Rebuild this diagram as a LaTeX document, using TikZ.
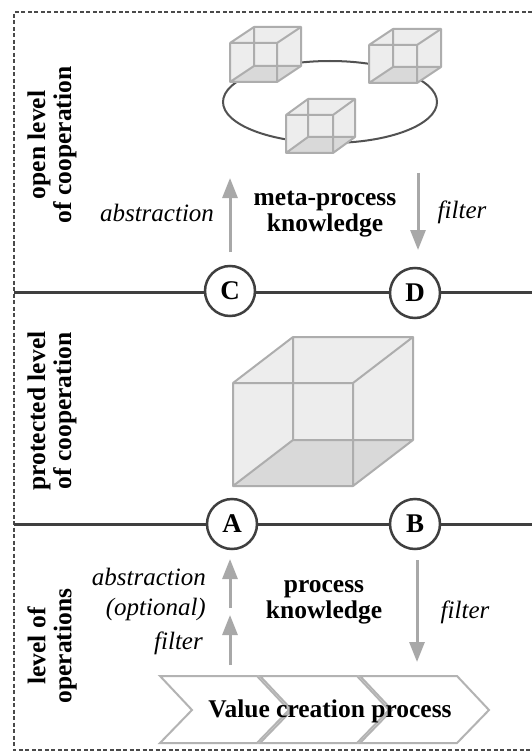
\documentclass[tikz,border=0pt]{standalone}
\usepackage{fontspec}
\setmainfont{Liberation Serif}
\usetikzlibrary{arrows.meta}
\definecolor{linedark}{HTML}{3F3F3F}
\definecolor{framegray}{HTML}{4A4A4A}
\definecolor{arrowgray}{HTML}{A8A8A8}
\definecolor{cubeedge}{HTML}{ADADAD}
\definecolor{cubelight}{HTML}{EDEDED}
\definecolor{cubedark}{HTML}{D9D9D9}
\definecolor{chevedge}{HTML}{B3B3B3}
\tikzset{
  boldlbl/.style={font=\fontsize{25.5}{26}\selectfont\bfseries, align=center, inner sep=0pt},
  itlbl/.style={font=\fontsize{25}{26}\selectfont\itshape, inner sep=0pt},
  levellbl/.style={boldlbl, rotate=90},
  gate/.style={circle, draw=linedark, line width=2.5pt, fill=white, minimum size=50pt, inner sep=0pt, font=\fontsize{27}{27}\selectfont\bfseries},
  flow/.style={draw=arrowgray, line width=3pt, -{Triangle[width=15pt,length=20pt]}},
  levelline/.style={draw=linedark, line width=3pt},
  chevron/.style={draw=chevedge, line width=2pt, fill=white, line join=miter},
}
% wireframe cube: front face lower-left corner (#1,#2), width #3, height #4, depth offset (#5,#6)
\newcommand{\wirecube}[6]{%
  \fill[cubelight] (#1,#2) -- (#1+#3,#2) -- (#1+#3+#5,#2+#6) -- (#1+#3+#5,#2+#6-#4)
     -- (#1+#5,#2+#6-#4) -- (#1,#2-#4) -- cycle;
  \fill[cubedark] (#1,#2) -- (#1+#3,#2) -- (#1+#3+#5,#2+#6) -- (#1+#5,#2+#6) -- cycle;
  \draw[cubeedge, line width=2pt, line join=round]
     (#1,#2) rectangle (#1+#3,#2-#4)
     (#1+#5,#2+#6) rectangle (#1+#3+#5,#2+#6-#4)
     (#1,#2) -- (#1+#5,#2+#6)
     (#1+#3,#2) -- (#1+#3+#5,#2+#6)
     (#1,#2-#4) -- (#1+#5,#2+#6-#4)
     (#1+#3,#2-#4) -- (#1+#3+#5,#2+#6-#4);
}
\begin{document}
\begin{tikzpicture}[x=1pt, y=-1pt]
\useasboundingbox (0,0) rectangle (532,754);
\fill[white] (0,0) rectangle (532,754);

% dashed outer frame (open to the right)
\draw[framegray, line width=1.6pt, dash pattern=on 4pt off 2.5pt]
  (545,12) -- (14,12) -- (14,750) -- (545,750);

% level boundaries
\coordinate (upL) at (14,292);
\coordinate (upR) at (545,292);
\coordinate (loL) at (14,524);
\coordinate (loR) at (545,524);
\draw[levelline] (upL) -- (upR);
\draw[levelline] (loL) -- (loR);

% gates
\node[gate] (C) at (230,291) {C};
\node[gate] (D) at (415,293) {D};
\node[gate] (A) at (232,524) {A};
\node[gate] (B) at (415,524) {B};

% level labels
\node[levellbl] (openlbl) at (52,145) {open level\\of cooperation};
\node[levellbl] (protlbl) at (52,411) {protected level\\of cooperation};
\node[levellbl] (oplbl) at (52,646) {level of\\operations};

% open level: ring of cubes
\draw[linedark!90, line width=2pt] (330,102) ellipse [x radius=107, y radius=41];
\wirecube{230}{82}{47}{39}{24}{-16}
\wirecube{369}{83}{48}{38}{24}{-16}
\wirecube{286}{153}{47}{38}{22}{-16}

% protected level: big cube
\wirecube{233}{486}{120}{103}{60}{-46}

% upper arrows
\coordinate (absU0) at (230,252);
\coordinate (absU1) at (230,178);
\coordinate (filU0) at (418,173);
\coordinate (filU1) at (418,250);
\draw[flow] (absU0) -- (absU1);
\draw[flow] (filU0) -- (filU1);
\node[itlbl] (absUlbl) at (157,213) {abstraction};
\node[itlbl] (filUlbl) at (462,212) {filter};
\node[boldlbl] (meta) at (325,214) {meta-process\\knowledge};

% lower arrows
\coordinate (absL0) at (230,608);
\coordinate (absL1) at (230,559);
\coordinate (filA0) at (230,665);
\coordinate (filA1) at (230,615);
\coordinate (filB0) at (417,560);
\coordinate (filB1) at (417,662);
\draw[flow] (absL0) -- (absL1);
\draw[flow] (filA0) -- (filA1);
\draw[flow] (filB0) -- (filB1);
\node[itlbl, anchor=east] (absLlbl) at (206,577) {abstraction};
\node[itlbl, anchor=east] (optlbl) at (206,609) {(optional)};
\node[itlbl, anchor=east] (filAlbl) at (203,643) {filter};
\node[itlbl] (filBlbl) at (465,612) {filter};
\node[boldlbl] (proc) at (324,602) {process\\knowledge};

% value creation chevrons
\foreach \i in {0,1,2} {
  \pgfmathsetmacro{\xo}{160+100*\i}
  \draw[chevron] (\xo,676) -- (\xo+97,676) -- (\xo+129,710) -- (\xo+97,743)
     -- (\xo,743) -- (\xo+32,710) -- cycle;
}
\node[boldlbl] (vcp) at (330,711) {Value creation process};
\end{tikzpicture}
\end{document}
